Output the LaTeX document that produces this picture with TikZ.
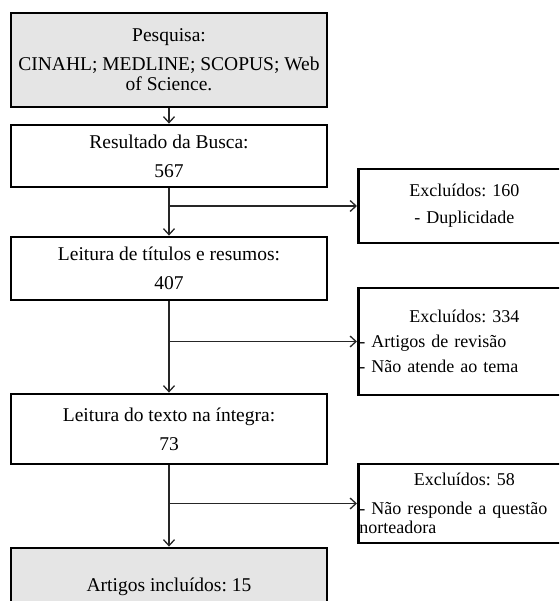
\documentclass[tikz,border=0pt]{standalone}
\usepackage{fontspec}
\setmainfont{Liberation Serif}
\usetikzlibrary{arrows.meta}
\frenchspacing

\begin{document}
\begin{tikzpicture}[x=1pt, y=-1pt, >={Straight Barb[length=6pt,width=11pt]},
    box/.style={draw, line width=2.8pt, minimum width=316pt, inner sep=0pt, align=center, font=\fontsize{19.5}{20}\selectfont},
    side/.style={draw, line width=2.8pt, minimum width=212pt, inner xsep=1pt, inner ysep=0pt, text width=210pt, align=left, anchor=west, font=\fontsize{18}{19}\selectfont},
    link/.style={draw=black!85, line width=1.3pt}]
  \useasboundingbox (0,0) rectangle (559,601);
  \clip (0,0) rectangle (559,601);
  \def\sw{210pt}
  \node[box, fill=gray!20, minimum height=94pt] (pesq) at (169,60) {Pesquisa:\\[9pt] CINAHL; MEDLINE; SCOPUS; Web\\ of Science.};
  \node[box, minimum height=62pt] (busca) at (169,156) {Resultado da Busca:\\[9pt] 567};
  \node[box, minimum height=63pt] (titulos) at (169,268.5) {Leitura de títulos e resumos:\\[9pt] 407};
  \node[box, minimum height=70pt] (texto) at (169,429) {Leitura do texto na íntegra:\\[9pt] 73};
  \node[box, fill=gray!20, minimum height=78pt] (incl) at (169,587) {Artigos incluídos: 15};
  \node[side, minimum height=74pt] (exc160) at (357,206) {\makebox[\sw]{Excluídos: 160}\\[8pt] \makebox[\sw]{- Duplicidade}};
  \node[side, minimum height=107pt] (exc334) at (357,341.5) {\makebox[\sw]{Excluídos: 334}\\[6pt] - Artigos de revisão\\[6pt] - Não atende ao tema};
  \node[side, minimum height=79pt] (exc58) at (357,503.5) {\makebox[\sw]{Excluídos: 58}\\[10pt] - Não responde a questão\\ norteadora};
  \coordinate (c1) at (busca.south |- exc160.west);
  \coordinate (c2) at (titulos.south |- exc334.west);
  \coordinate (c3) at (texto.south |- exc58.west);
  \draw[link, ->] (pesq) -- (busca);
  \draw[link, ->] (busca) -- (titulos);
  \draw[link, ->] (titulos) -- (texto);
  \draw[link, ->] (texto) -- (incl);
  \draw[link, ->] (c1) -- (exc160);
  \draw[link, ->] (c2) -- (exc334);
  \draw[link, ->] (c3) -- (exc58);
\end{tikzpicture}
\end{document}
